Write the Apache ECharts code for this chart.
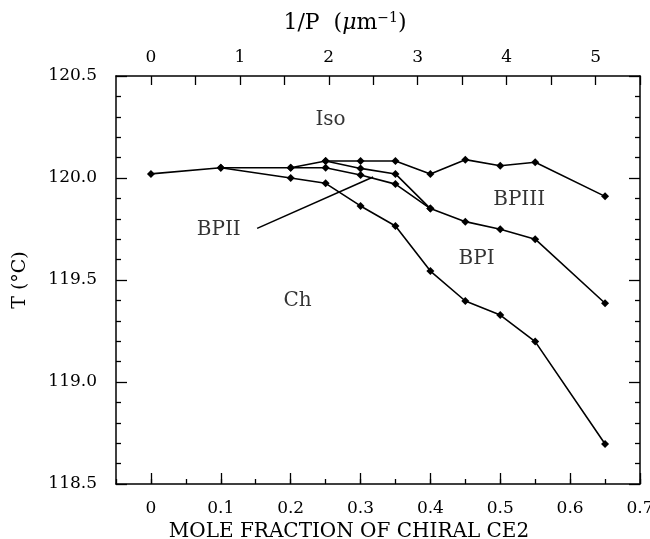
<!DOCTYPE html>
<html>
<head>
<meta charset="UTF-8">
<title>Phase diagram</title>
<script src="https://cdn.jsdelivr.net/npm/echarts@6/dist/echarts.min.js"></script>
<style>
	body{ margin:0; background:#fff; }
	#chart{ width:650px; height:539px; }
</style>
</head>
<body>
<div id="chart"></div>
<script>
	// boundaries: mole fraction -> T (C)
	var isoX = [0, 0.1, 0.2, 0.25, 0.3, 0.35, 0.4, 0.45, 0.5, 0.55, 0.65];
	var isoT = [120.02, 120.05, 120.05, 120.083, 120.083, 120.083, 120.02, 120.09, 120.06, 120.077, 119.91];
	var bp3X = [0.25, 0.3, 0.35, 0.4, 0.45, 0.5, 0.55, 0.65];
	var bp3T = [120.083, 120.047, 120.02, 119.85, 119.786, 119.749, 119.70, 119.386];
	var bp2X = [0.2, 0.25, 0.3, 0.35, 0.4];
	var bp2T = [120.05, 120.05, 120.015, 119.97, 119.85];
	var chX = [0.1, 0.2, 0.25, 0.3, 0.35, 0.4, 0.45, 0.5, 0.55, 0.65];
	var chT = [120.05, 120.00, 119.974, 119.863, 119.765, 119.544, 119.397, 119.328, 119.198, 118.696];
	// pointer from the BPII label
	var pointerX = [0.152, 0.318];
	var pointerT = [119.753, 120.005];
	// phase names
	var phaseNames = ["Iso", "BPIII", "BPI", "BPII", "Ch"];
	var phaseX = [0.257, 0.527, 0.466, 0.097, 0.21];
	var phaseT = [120.284, 119.892, 119.603, 119.745, 119.397];
	// axes
	var xTicks = [0, 0.1, 0.2, 0.3, 0.4, 0.5, 0.6, 0.7];
	var topTicks = [0, 0.5, 1, 1.5, 2, 2.5, 3, 3.5, 4, 4.5, 5, 5.5];
	var topLabels = [0, 1, 2, 3, 4, 5];
	var topPerX = 5.5 / 0.7; // 1/P units per mole fraction

	function pairs(xs, ys){
		var out = [];
		for(var i=0;i<xs.length;i++){
			out.push([xs[i], ys[i]]);
		}
		return out;
	}

	var font = "DejaVu Serif";
	var black = "#000";

	function boundary(xs, ys){
		return {
			type:"line",
			data:pairs(xs, ys),
			symbol:"diamond",
			symbolSize:8,
			itemStyle:{color:black},
			lineStyle:{color:black, width:1.6},
			z:3
		};
	}

	var phaseData = [];
	for(var i=0;i<phaseNames.length;i++){
		phaseData.push({value:[phaseX[i], phaseT[i]], name:phaseNames[i]});
	}

	var myChart = echarts.init(document.getElementById("chart"));
	var option = {
		animation:false,
		grid:{left:116, right:10, top:76, bottom:55, containLabel:false, outerBoundsMode:"none"},
		xAxis:[{
			type:"value", position:"bottom", min:-0.05, max:0.7,
			name:"MOLE FRACTION OF CHIRAL CE2", nameLocation:"middle", nameGap:36,
			nameTextStyle:{fontFamily:font, fontSize:20, color:black, padding:[0,58,0,0]},
			axisLine:{onZero:false, lineStyle:{color:black, width:1.5}},
			axisTick:{inside:true, length:11, customValues:xTicks, lineStyle:{color:black, width:1.3}},
			axisLabel:{customValues:xTicks, margin:16, fontFamily:font, fontSize:17, color:black,
				formatter:function(v){ return v === 0 ? "0" : v.toFixed(1); }},
			splitLine:{show:false}
		},{
			type:"value", position:"top", min:-0.05*topPerX, max:5.5,
			name:"{n|1/P  (}{it|μ}{n|m}{sup|−1}{n|)}", nameLocation:"middle", nameGap:40,
			nameTextStyle:{padding:[0,66,0,0], rich:{
				n:{fontFamily:font, fontSize:22, color:black},
				it:{fontFamily:font, fontSize:22, fontStyle:"italic", color:black},
				sup:{fontFamily:font, fontSize:14, color:black, verticalAlign:"top", padding:[0,0,11,0]}
			}},
			axisLine:{onZero:false, lineStyle:{color:black, width:1.5}},
			axisTick:{inside:true, length:9, customValues:topTicks, lineStyle:{color:black, width:1.3}},
			axisLabel:{customValues:topLabels, margin:10, fontFamily:font, fontSize:17, color:black},
			splitLine:{show:false}
		},{
			type:"value", position:"bottom", min:-0.05, max:0.7, interval:0.05,
			axisLine:{show:false, onZero:false},
			axisTick:{inside:true, length:5, lineStyle:{color:black, width:1.3}},
			axisLabel:{show:false},
			splitLine:{show:false}
		}],
		yAxis:[{
			type:"value", position:"left", min:118.5, max:120.5, interval:0.5,
			name:"T (°C)", nameLocation:"middle", nameGap:86, nameRotate:90,
			nameTextStyle:{fontFamily:font, fontSize:19, color:black},
			axisLine:{show:true, onZero:false, lineStyle:{color:black, width:1.5}},
			axisTick:{inside:true, length:11, lineStyle:{color:black, width:1.3}},
			minorTick:{show:true, splitNumber:5, length:5, lineStyle:{color:black, width:1.3}},
			axisLabel:{margin:19, fontFamily:font, fontSize:17, color:black,
				formatter:function(v){ return v.toFixed(1); }},
			splitLine:{show:false}
		},{
			type:"value", position:"right", min:118.5, max:120.5, interval:0.5,
			axisLine:{show:true, onZero:false, lineStyle:{color:black, width:1.5}},
			axisTick:{inside:true, length:11, lineStyle:{color:black, width:1.3}},
			minorTick:{show:true, splitNumber:5, length:5, lineStyle:{color:black, width:1.3}},
			axisLabel:{show:false},
			splitLine:{show:false}
		}],
		series:[
			boundary(isoX, isoT),
			boundary(bp3X, bp3T),
			boundary(bp2X, bp2T),
			boundary(chX, chT),
			{
				type:"line", data:pairs(pointerX, pointerT), symbol:"none",
				lineStyle:{color:black, width:1.6}
			},
			{
				type:"scatter", data:phaseData, symbolSize:0,
				label:{show:true, position:"inside", formatter:"{b}",
					fontFamily:font, fontSize:20, color:black}
			}
		]
	};
	myChart.setOption(option);
</script>
</body>
</html>
